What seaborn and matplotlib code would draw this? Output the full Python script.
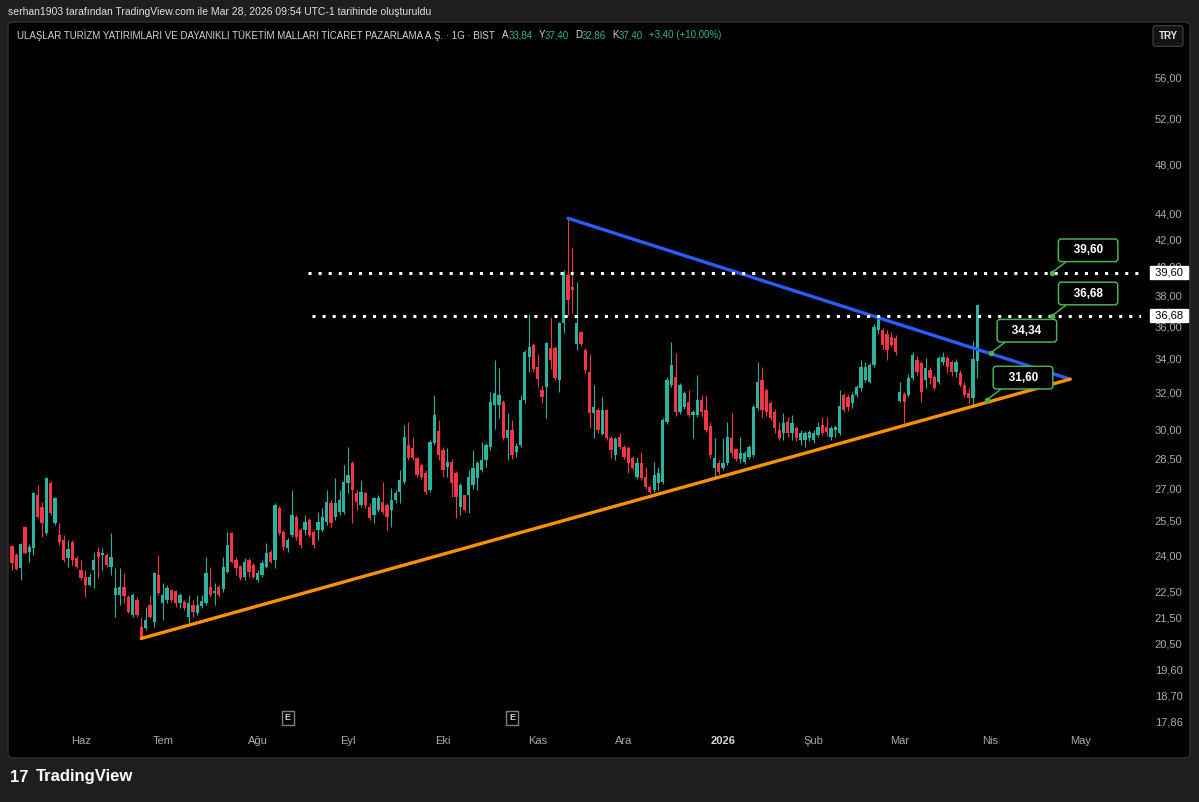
"""
ULAS daily candles (BIST) with triangle trendlines, TradingView-like dark look.
Output: out.png (1199 x 802)
"""

import matplotlib
matplotlib.use("Agg")

import matplotlib.pyplot as plt
import matplotlib.transforms as mtransforms
from matplotlib.patches import FancyBboxPatch
from matplotlib.ticker import NullLocator
import numpy as np
import pandas as pd
import seaborn as sns

# ==========================================================
# Data (daily OHLC, TRY)
# ==========================================================

opens = [
    24.38, 24.00, 23.45, 25.21, 24.12, 24.29, 26.69, 26.13, 24.95, 27.27,
    25.40, 24.86, 24.64, 23.87, 24.56, 23.87, 23.37, 23.07, 22.75, 23.37,
    24.12, 24.00, 24.00, 23.49, 22.35, 22.35, 22.67, 22.27, 21.58, 22.15,
    21.12, 21.08, 21.96, 21.31, 23.16, 22.03, 22.15, 22.55, 22.51, 22.03,
    22.07, 21.49, 21.96, 21.66, 21.92, 22.03, 22.67, 22.43, 22.67, 22.59,
    23.28, 24.95, 23.78, 23.53, 23.07, 23.78, 23.57, 22.95, 23.16, 23.49,
    24.12, 23.78, 26.08, 25.00, 24.29, 24.86, 25.67, 25.08,
    25.08, 25.53, 25.00, 25.08, 25.08, 25.44, 26.31, 25.67, 25.90, 25.90,
    27.27, 28.25, 26.79, 26.22, 26.79, 26.13, 25.76, 25.99, 26.36, 26.22,
    25.99, 26.45, 26.84, 27.32, 29.16, 29.01, 28.50, 28.15, 27.75, 26.93,
    29.27, 29.90, 28.91, 28.05, 28.30, 27.75, 26.13, 26.69, 26.69, 27.17,
    27.51, 27.90, 28.40, 29.06, 31.30, 31.30, 31.47, 29.53, 29.95, 28.81,
    29.16, 31.58, 34.08, 34.82, 33.49, 32.15, 32.32, 34.64, 34.64, 32.72,
    36.20, 39.42, 38.60, 34.88, 35.64, 34.51, 33.19, 30.87, 31.03, 29.74,
    31.03, 29.53, 28.65, 29.58, 29.06, 29.01, 28.50, 27.56, 28.25, 27.56,
    27.08, 26.93, 27.27, 27.32, 30.38, 32.44, 32.89, 30.92, 31.20, 31.47,
    30.76, 30.76, 31.58, 31.03, 30.16, 28.00, 28.25, 28.00, 28.25, 29.53,
    28.96, 28.45, 28.30, 28.55, 28.65, 31.14, 32.72, 32.15, 31.41, 30.92,
    29.95, 29.79, 30.38, 29.79, 30.06, 29.42, 29.42, 29.53, 29.42, 29.68,
    30.22, 30.11, 29.58, 29.95, 29.79, 31.88, 31.76, 31.41, 31.88, 32.27,
    32.72, 32.61, 33.60, 35.76, 35.76, 35.50, 35.32, 35.26, 31.52, 31.93,
    31.87, 32.84, 33.90, 33.72, 32.72, 33.31, 32.89, 32.61, 33.78, 34.02,
    33.78, 33.19, 33.13, 32.44, 31.99, 31.70, 33.84,
]

highs = [
    24.43, 24.08, 24.51, 25.26, 24.47, 26.84, 27.17, 26.36, 27.56, 27.36,
    26.59, 25.40, 24.86, 24.64, 24.64, 23.95, 23.78, 23.37, 23.24, 24.12,
    24.34, 24.29, 24.08, 24.95, 23.45, 23.45, 23.24, 22.35, 22.43, 22.27,
    21.49, 21.89, 22.35, 23.28, 24.00, 22.83, 22.75, 22.59, 22.55, 22.43,
    22.15, 22.35, 22.15, 22.35, 22.35, 23.91, 23.49, 22.83, 22.75, 23.91,
    25.00, 25.00, 23.91, 23.57, 23.87, 23.87, 23.66, 23.37, 23.78, 24.51,
    24.21, 26.31, 26.17, 25.08, 24.73, 26.93, 25.76, 25.17,
    25.76, 25.62, 25.08, 25.90, 26.08, 26.93, 26.45, 27.51, 26.93, 28.15,
    29.06, 28.35, 26.93, 27.41, 26.84, 26.31, 26.59, 26.69, 27.32, 26.31,
    27.03, 26.93, 27.90, 30.22, 30.38, 29.58, 28.55, 28.25, 27.90, 29.42,
    31.88, 30.48, 29.06, 29.01, 28.45, 27.85, 27.27, 26.69, 27.90, 28.91,
    28.35, 29.32, 29.27, 32.04, 33.90, 33.43, 31.58, 30.87, 30.48, 29.27,
    31.88, 34.51, 36.80, 34.95, 34.26, 32.44, 35.01, 36.60, 34.76, 36.27,
    39.77, 43.60, 41.36, 38.94, 35.70, 34.64, 34.26, 32.44, 31.14, 31.76,
    31.09, 29.64, 29.58, 29.79, 29.16, 29.11, 28.60, 28.55, 28.81, 28.05,
    27.17, 28.30, 28.05, 30.60, 32.89, 35.01, 34.33, 32.55, 32.10, 32.15,
    31.03, 33.01, 31.88, 31.88, 30.38, 29.53, 28.40, 29.53, 30.38, 30.87,
    29.01, 29.58, 28.86, 29.16, 31.30, 33.78, 33.49, 32.27, 31.52, 31.09,
    30.38, 30.87, 30.65, 30.76, 30.16, 29.95, 29.90, 29.95, 29.95, 30.38,
    30.65, 30.65, 30.16, 30.22, 32.15, 32.00, 31.93, 32.04, 32.44, 33.90,
    33.78, 33.72, 36.13, 36.66, 35.89, 35.76, 35.64, 35.45, 32.61, 32.04,
    33.07, 34.39, 34.14, 33.84, 34.02, 33.49, 33.01, 34.14, 34.39, 34.14,
    33.90, 33.96, 33.31, 32.61, 32.27, 35.10, 37.40,
]

lows = [
    23.37, 23.37, 22.95, 24.04, 23.70, 24.00, 25.62, 24.77, 24.86, 25.76,
    25.31, 24.43, 23.70, 23.49, 23.57, 23.45, 22.95, 22.27, 22.71, 22.63,
    23.03, 23.37, 23.49, 23.16, 21.49, 21.96, 22.03, 21.66, 21.49, 21.49,
    20.70, 21.01, 21.45, 21.12, 22.35, 21.38, 22.03, 22.07, 21.89, 21.85,
    21.77, 21.27, 21.49, 21.58, 21.85, 21.96, 22.27, 21.96, 22.27, 22.47,
    23.24, 23.66, 23.16, 22.95, 22.95, 23.07, 23.03, 22.87, 23.07, 23.45,
    23.66, 23.45, 24.86, 24.21, 24.12, 24.77, 24.64, 24.29,
    24.86, 24.77, 24.29, 24.64, 25.00, 25.31, 25.21, 25.53, 25.76, 25.81,
    26.79, 25.40, 25.99, 26.13, 26.08, 25.53, 25.40, 25.90, 25.81, 25.08,
    25.21, 26.31, 26.31, 27.22, 28.40, 28.40, 27.56, 27.46, 26.74, 26.84,
    29.16, 28.40, 27.56, 27.56, 26.59, 25.62, 25.76, 25.90, 25.85, 27.00,
    26.93, 27.80, 28.05, 28.91, 30.00, 30.60, 29.42, 28.40, 28.45, 28.55,
    29.06, 31.41, 33.19, 33.19, 32.32, 31.41, 30.60, 33.37, 32.72, 32.04,
    35.57, 36.73, 36.86, 34.51, 34.76, 33.13, 30.06, 29.53, 29.79, 29.68,
    29.42, 28.50, 28.40, 28.96, 28.45, 27.75, 27.90, 27.46, 27.41, 26.98,
    26.79, 26.84, 26.93, 27.22, 30.27, 32.32, 30.71, 30.81, 31.09, 30.65,
    29.53, 30.65, 30.71, 29.85, 28.50, 27.56, 27.70, 27.90, 28.15, 28.55,
    28.35, 28.25, 28.20, 28.45, 28.55, 31.03, 30.60, 30.71, 30.48, 29.79,
    29.42, 29.42, 29.58, 29.42, 29.37, 29.16, 29.06, 29.37, 29.27, 29.58,
    29.68, 29.64, 29.42, 29.58, 29.68, 30.92, 30.97, 31.14, 31.76, 32.10,
    32.61, 32.55, 33.49, 35.51, 34.51, 33.90, 34.70, 34.20, 31.47, 30.27,
    31.75, 32.72, 33.01, 31.47, 32.27, 32.49, 32.15, 32.49, 33.60, 33.13,
    32.95, 32.89, 32.32, 31.76, 31.41, 31.20, 32.86,
]

closes = [
    23.66, 23.41, 24.47, 24.08, 24.34, 26.79, 25.67, 25.40, 27.51, 25.85,
    26.54, 24.56, 23.78, 24.25, 23.78, 23.49, 23.03, 22.75, 23.07, 23.78,
    23.91, 24.02, 23.57, 23.91, 22.63, 22.67, 22.31, 21.70, 22.35, 21.58,
    20.75, 21.38, 21.49, 23.24, 22.43, 22.35, 22.63, 22.15, 22.03, 22.35,
    21.85, 22.03, 21.70, 21.96, 22.11, 23.24, 22.35, 22.51, 22.35, 23.49,
    24.43, 23.70, 23.45, 23.03, 23.70, 23.28, 23.07, 23.24, 23.66, 24.08,
    23.70, 26.22, 24.95, 24.34, 24.64, 25.76, 24.77, 24.43,
    25.44, 24.86, 24.43, 25.44, 25.67, 26.36, 25.40, 26.31, 26.45, 27.32,
    27.65, 26.93, 26.36, 26.84, 26.22, 25.62, 26.54, 26.54, 25.90, 25.67,
    26.45, 26.79, 27.41, 29.58, 28.50, 28.50, 27.65, 27.56, 26.84, 29.32,
    30.76, 28.65, 27.90, 28.30, 27.27, 26.59, 27.17, 25.99, 27.56, 28.00,
    28.25, 28.40, 29.16, 31.47, 31.99, 31.88, 29.53, 29.95, 28.65, 29.11,
    31.58, 34.39, 34.70, 33.37, 32.78, 31.76, 34.95, 33.90, 32.84, 36.20,
    39.63, 37.71, 38.39, 36.20, 34.88, 33.31, 30.87, 31.20, 29.95, 31.03,
    29.53, 28.91, 29.48, 29.06, 28.55, 28.25, 28.00, 28.25, 27.51, 27.08,
    26.84, 27.65, 27.75, 30.48, 32.72, 33.60, 30.92, 32.44, 31.99, 30.76,
    30.92, 31.58, 30.92, 29.95, 28.65, 28.50, 27.80, 28.25, 29.58, 28.76,
    28.45, 28.76, 28.76, 29.06, 31.20, 32.61, 31.03, 30.92, 30.60, 30.06,
    29.53, 30.33, 29.79, 30.33, 29.53, 29.79, 29.79, 29.85, 29.79, 30.11,
    29.79, 29.85, 30.06, 30.11, 31.25, 31.03, 31.20, 31.88, 32.32, 33.49,
    33.49, 33.60, 35.95, 36.53, 34.82, 34.51, 34.82, 34.39, 32.04, 31.47,
    32.84, 34.20, 33.19, 32.04, 33.43, 32.84, 32.27, 34.02, 34.08, 33.49,
    33.19, 33.78, 32.44, 31.88, 31.70, 34.00, 37.40,
]

LAST_SESSION = "2026-03-27"

HOLIDAYS = [
    "2025-05-01", "2025-05-19", "2025-06-06", "2025-06-09", "2025-07-15",
    "2025-10-29", "2026-01-01", "2026-03-20", "2026-04-23", "2026-05-01",
]

MONTH_KEYS = ["2025-06", "2025-07", "2025-08", "2025-09", "2025-10", "2025-11",
              "2025-12", "2026-01", "2026-02", "2026-03", "2026-04", "2026-05"]

MONTH_LABELS = ["Haz", "Tem", "Ağu", "Eyl", "Eki", "Kas",
                "Ara", "2026", "Şub", "Mar", "Nis", "May"]

EARNINGS_DATES = ["2025-08-12", "2025-10-23"]

PRICE_TICKS = [56, 52, 48, 44, 42, 40, 38, 36, 34, 32, 30, 28.5, 27, 25.5,
               24, 22.5, 21.5, 20.5, 19.6, 18.7, 17.86]

# horizontal levels and the bar they were drawn from
LEVELS = [39.60, 36.68]
LEVEL_FROM_BAR = [68.7, 69.6]

# triangle apex (where both trendlines meet)
APEX_BAR = 245.5
APEX_PRICE = 32.78

# callout labels
CALLOUT_TEXT = ["39,60", "36,68", "34,34", "31,60"]
CALLOUT_PRICE = [39.60, 36.68, 34.34, 31.60]
CALLOUT_BAR = [241.3, 241.3, 227.1, 226.2]

HEADER_NAME = ("ULAŞLAR TURİZM YATIRIMLARI VE DAYANIKLI TÜKETİM MALLARI "
               "TİCARET PAZARLAMA A.Ş. · 1G · BIST")
HEADER_VALUES = [("A", "33,84"), ("Y", "37,40"), ("D", "32,86"), ("K", "37,40")]
HEADER_CHANGE = "+3,40 (+10,00%)"

# ==========================================================
# Style
# ==========================================================

W, H = 1199, 802

BG = "#1e1e1e"
UP = "#2bb3a0"
DOWN = "#f23645"
TEXT = "#d1d4dc"
AXIS_TEXT = "#a9acb4"
BLUE = "#2a5cff"
ORANGE = "#ff9100"
CALLOUT_GREEN = "#4caf50"

sns.set_theme(style="dark", rc={
    "figure.facecolor": BG,
    "axes.facecolor": "black",
    "axes.grid": False,
})
plt.rcParams["font.family"] = ["Liberation Sans", "DejaVu Sans"]


def fmt_price(v):
    return f"{v:.2f}".replace(".", ",")


# ==========================================================
# Bars / dates
# ==========================================================

n = len(closes)
idx = np.arange(n)

days = pd.bdate_range("2025-04-01", "2026-06-30")
days = days[~days.isin(pd.to_datetime(HOLIDAYS))]
first_pos = days.get_loc(pd.Timestamp(LAST_SESSION)) - (n - 1)
periods = days.to_period("M")

tick_pos = []
for key in MONTH_KEYS:
    pos = np.flatnonzero(periods == pd.Period(key, "M"))[0]
    tick_pos.append(pos - first_pos)

earn_pos = [days.get_loc(pd.Timestamp(d)) - first_pos for d in EARNINGS_DATES]

o = np.array(opens)
h = np.array(highs)
l = np.array(lows)
c = np.array(closes)
colors = np.where(c >= o, UP, DOWN)

body_low = np.minimum(o, c)
body_h = np.maximum(np.abs(c - o), body_low * 0.003)

# ==========================================================
# Figure
# ==========================================================

fig = plt.figure(figsize=(W / 100, H / 100), dpi=100)
renderer = fig.canvas.get_renderer()

panel = FancyBboxPatch(
    (8 / W, 1 - 758 / H), (1190 - 8) / W, (758 - 22) / H,
    boxstyle="round,pad=0,rounding_size=0.005",
    transform=fig.transFigure, facecolor="black",
    edgecolor="#2c2c2c", linewidth=1.2, zorder=-10
)
fig.patches.append(panel)

ax = fig.add_axes([10 / W, 1 - 730 / H, 1131 / W, 680 / H])
ax.patch.set_alpha(0)

# candles
ax.vlines(idx, l, h, colors=colors, linewidth=0.8, zorder=2)
ax.bar(idx, body_h, bottom=body_low, width=0.76, color=colors,
       linewidth=0, zorder=3)

# trendlines
top_i = int(np.argmax(h))
low_i = int(np.argmin(l))

sns.lineplot(x=[top_i, APEX_BAR], y=[h[top_i], APEX_PRICE], ax=ax,
             color=BLUE, linewidth=2.4, estimator=None, sort=False, zorder=4)
sns.lineplot(x=[low_i, APEX_BAR], y=[l[low_i], APEX_PRICE], ax=ax,
             color=ORANGE, linewidth=2.4, estimator=None, sort=False, zorder=4)

# axes
ax.set_yscale("log")
ax.set_ylim(17.60, 58.75)
ax.set_xlim(-0.45, 261.95)

x_right = ax.get_xlim()[1]

# dotted levels
for lvl, start in zip(LEVELS, LEVEL_FROM_BAR):
    ax.plot([start, x_right], [lvl, lvl], color="white", linewidth=2.2,
            linestyle=(0, (1, 2.3)), dash_capstyle="butt", zorder=5)

ax.yaxis.set_minor_locator(NullLocator())
ax.set_yticks(PRICE_TICKS)
ax.set_yticklabels([fmt_price(v) for v in PRICE_TICKS])
ax.yaxis.tick_right()
ax.tick_params(axis="y", length=0, pad=10, labelsize=8, labelcolor=AXIS_TEXT)

ax.set_xticks(tick_pos)
ax.set_xticklabels(MONTH_LABELS)
ax.tick_params(axis="x", length=0, pad=4.5, labelsize=8, labelcolor=AXIS_TEXT)
for lab in ax.get_xticklabels():
    if lab.get_text() == "2026":
        lab.set_fontweight("bold")
        lab.set_color(TEXT)

for s in ax.spines.values():
    s.set_visible(False)
ax.set_xlabel("")
ax.set_ylabel("")

# price labels on the scale
blend_y = mtransforms.blended_transform_factory(ax.transAxes, ax.transData)
for lvl in LEVELS:
    ax.text((1152 - 10) / 1131, lvl, " " + fmt_price(lvl) + " ",
            transform=blend_y, ha="left", va="center", fontsize=8,
            color="black", clip_on=False, zorder=8,
            bbox=dict(boxstyle="square,pad=0.15", fc="white", ec="white"))

# callouts
for txt, bar, price in zip(CALLOUT_TEXT, CALLOUT_BAR, CALLOUT_PRICE):
    ax.annotate(
        "   " + txt + "   ", xy=(bar, price), xytext=(26, 16),
        textcoords="offset points", ha="center", va="center",
        color="white", fontsize=8.5, fontweight="bold", zorder=9,
        bbox=dict(boxstyle="round,pad=0.45,rounding_size=0.25",
                  fc="black", ec=CALLOUT_GREEN, lw=1.1),
        arrowprops=dict(arrowstyle="-", color=CALLOUT_GREEN, lw=1.1,
                        shrinkA=0, shrinkB=0, relpos=(0.2, 0.0))
    )
    ax.plot(bar, price, "o", color=CALLOUT_GREEN, markersize=3, zorder=10)

# earnings markers
blend_x = mtransforms.blended_transform_factory(ax.transData, ax.transAxes)
for pos in earn_pos:
    ax.text(pos, 12 / 680, "E", transform=blend_x, ha="center", va="center",
            fontsize=6.5, fontweight="bold", color="#cfcfcf", zorder=8,
            bbox=dict(boxstyle="square,pad=0.3", fc="black", ec="#808080",
                      lw=1))

# ==========================================================
# Header / footer texts
# ==========================================================

top = fig.text(8 / W, 1 - 12 / H,
               "serhan1903 tarafından TradingView.com ile Mar 28, 2026 "
               "09:54 UTC-1 tarihinde oluşturuldu",
               ha="left", va="center", fontsize=7, color="#e0e0e0")
top.set_fontsize(7 * 420 / top.get_window_extent(renderer).width)

name = fig.text(17 / W, 1 - 35 / H, HEADER_NAME, ha="left", va="center",
                fontsize=7, color=TEXT)
size = 7 * 483 / name.get_window_extent(renderer).width
name.set_fontsize(size)

x_px = name.get_window_extent(renderer).x1 + 7
for letter, value in HEADER_VALUES:
    t = fig.text(x_px / W, 1 - 35 / H, letter, ha="left", va="center",
                 fontsize=size, color=TEXT)
    x_px = t.get_window_extent(renderer).x1
    t = fig.text(x_px / W, 1 - 35 / H, value, ha="left", va="center",
                 fontsize=size, color=UP)
    x_px = t.get_window_extent(renderer).x1 + 6
fig.text(x_px / W, 1 - 35 / H, HEADER_CHANGE, ha="left", va="center",
         fontsize=size, color=UP)

fig.text(1168 / W, 1 - 36 / H, "TRY", ha="center", va="center",
         fontsize=7, fontweight="bold", color="#e6e6e6",
         bbox=dict(boxstyle="round,pad=0.55,rounding_size=0.3",
                   fc="#141414", ec="#3a3a3a", lw=1))

fig.text(10 / W, 1 - 777 / H, "17", ha="left", va="center",
         fontsize=12, fontweight="heavy", color="white")
fig.text(36 / W, 1 - 777 / H, "TradingView", ha="left", va="center",
         fontsize=12, fontweight="bold", color="white")

fig.savefig("out.png", dpi=100, facecolor=BG)
plt.close(fig)
